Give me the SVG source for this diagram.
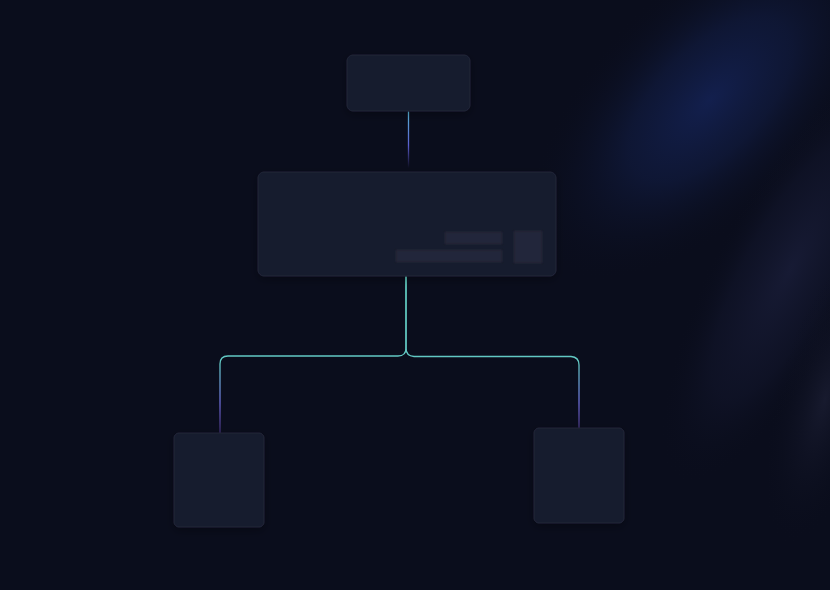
<svg xmlns="http://www.w3.org/2000/svg" width="830" height="590" viewBox="0 0 830 590">
<defs>
<style>
.node{fill:#191c2d;stroke:#22263a;stroke-width:1}
.bar{fill:#23273a}
.conn{fill:none;stroke-width:1.3;stroke-linecap:round}
</style>
<filter id="blur2" x="-20%" y="-50%" width="140%" height="200%"><feGaussianBlur stdDeviation="1.2"/></filter>
<filter id="shadow" x="-20%" y="-20%" width="140%" height="150%"><feDropShadow dx="0" dy="3" stdDeviation="4" flood-color="#000" flood-opacity="0.3"/></filter>
<radialGradient id="rg1" gradientUnits="userSpaceOnUse" cx="0" cy="0" r="1" gradientTransform="translate(710 100) rotate(-45) scale(230 115)">
<stop offset="0" stop-color="#15245a" stop-opacity="0.8"/>
<stop offset="0.45" stop-color="#13204c" stop-opacity="0.5"/>
<stop offset="1" stop-color="#0a0d1c" stop-opacity="0"/>
</radialGradient>
<radialGradient id="rg2" gradientUnits="userSpaceOnUse" cx="0" cy="0" r="1" gradientTransform="translate(790 270) rotate(-62) scale(240 75)">
<stop offset="0" stop-color="#1a1e3a" stop-opacity="0.8"/>
<stop offset="0.6" stop-color="#151932" stop-opacity="0.4"/>
<stop offset="1" stop-color="#0a0d1c" stop-opacity="0"/>
</radialGradient>
<radialGradient id="rg3" gradientUnits="userSpaceOnUse" cx="0" cy="0" r="1" gradientTransform="translate(825 400) rotate(-75) scale(150 50)">
<stop offset="0" stop-color="#1d2036" stop-opacity="0.7"/>
<stop offset="1" stop-color="#0a0d1c" stop-opacity="0"/>
</radialGradient>
<linearGradient id="gTop" x1="0" y1="111" x2="0" y2="168" gradientUnits="userSpaceOnUse">
<stop offset="0" stop-color="#58b8d8"/>
<stop offset="0.6" stop-color="#5a5fd0"/>
<stop offset="1" stop-color="#5a4fc0" stop-opacity="0"/>
</linearGradient>
<linearGradient id="gL" x1="0" y1="276" x2="0" y2="434" gradientUnits="userSpaceOnUse">
<stop offset="0" stop-color="#5ec9bd"/>
<stop offset="0.55" stop-color="#62c8c4"/>
<stop offset="0.8" stop-color="#6a6ad4"/>
<stop offset="1" stop-color="#7a55d0" stop-opacity="0.4"/>
</linearGradient>
</defs>
<rect width="830" height="590" fill="#0a0d1c"/>
<g id="glow">
<rect width="830" height="590" fill="url(#rg1)"/>
<rect width="830" height="590" fill="url(#rg2)"/>
<rect width="830" height="590" fill="url(#rg3)"/>
</g>
<g id="connectors">
<path class="conn" stroke="url(#gTop)" d="M408.5 112 V168"/>
<path class="conn" stroke="url(#gL)" d="M406 277 V348 Q406 356 398 356 H228 Q220 356 220 364 V433"/>
<path class="conn" stroke="url(#gL)" d="M406 277 V348 Q406 356 414 356.5 H571 Q579 357 579 365 V428"/>
</g>
<g id="node-top" filter="url(#shadow)">
<rect class="node" x="347" y="55" width="123" height="56" rx="6"/>
</g>
<g id="node-middle" filter="url(#shadow)">
<rect class="node" x="258" y="172" width="298" height="104" rx="6"/>
<g filter="url(#blur2)">
<rect class="bar" x="445" y="232" width="57" height="12"/>
<rect class="bar" x="396" y="250" width="106" height="12"/>
<rect class="bar" x="514" y="231" width="28" height="32"/>
</g>
</g>
<g id="node-left" filter="url(#shadow)">
<rect class="node" x="174" y="433" width="90" height="94" rx="5"/>
</g>
<g id="node-right" filter="url(#shadow)">
<rect class="node" x="534" y="428" width="90" height="95" rx="5"/>
</g>
</svg>
